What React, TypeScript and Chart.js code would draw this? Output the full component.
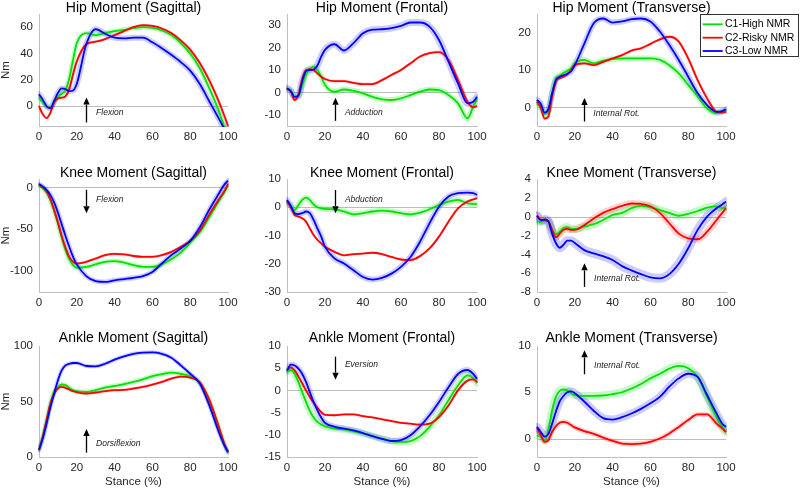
import React, { useEffect, useRef } from "react";
import { Chart, registerables } from "chart.js";
Chart.register(...registerables);

// ---------- data ----------
const stance = [0, 2, 4, 6, 8, 10, 12, 14, 16, 18, 20, 25, 30, 35, 40, 45, 50, 55, 60, 65, 70, 75, 80, 85, 90, 95, 98, 100];
const xTicks = [0, 20, 40, 60, 80, 100];
const groupLabels = ["C1-High NMR", "C2-Risky NMR", "C3-Low NMR"];

const hipSagHigh = [6.3, 3, -0.5, -1, 2.5, 7, 9.5, 12, 21, 35, 48, 55.5, 54, 55.5, 57, 58, 59.3, 60, 59.5, 57.5, 54, 48, 40, 29, 14, -3, -15.5, -22];
const hipSagRisky = [0, -6, -9, -5, 3, 6, 6.5, 7.5, 13, 24, 34, 47, 49, 51, 54, 57, 60, 61.5, 61, 59, 55.5, 50, 43, 33, 20, 4, -7, -15];
const hipSagLow = [9, 5, 0, -1.5, 4, 10, 13.5, 13, 11.5, 12, 17, 47, 58.5, 55, 52, 51.5, 52, 52, 48.5, 44, 39, 33.5, 27, 17, 4, -9, -17, -22];

const hipFrontHigh = [1.8, 1, -1.8, -1.6, 3, 8, 10.5, 11.5, 10, 7, 3.3, 0.3, 1.3, 0.7, -0.4, -2, -3.1, -3.4, -2.7, -1.2, 0.3, 1.3, 1, -1.2, -4.9, -11.6, -6.4, -2.7];
const hipFrontRisky = [1.8, 0.5, -3.4, -1, 6, 10, 10.3, 10, 8.5, 7, 6, 5, 5, 4.3, 3.7, 3.7, 5.5, 7.8, 10, 13, 16, 17.5, 18, 14.5, 5.5, -4.2, -6.7, -6];
const hipFrontLow = [1.8, 0.5, -2, -1.5, 5, 9.5, 10, 10.2, 12, 16, 19, 21.5, 18.7, 22, 26.4, 28, 28.2, 28.7, 29.7, 31.2, 31.2, 29.4, 23.4, 13.7, 4, -4.9, -4.2, -2];

const hipTransHigh = [1, 0, -1.8, -1.2, 3.75, 7.8, 8.4, 9.2, 9.8, 10.4, 11.8, 12.7, 11.8, 12.5, 12.9, 13.1, 13.1, 13.1, 13.1, 12.7, 11.3, 9.1, 6, 2.9, -0.3, -1.6, -1.2, -0.7];
const hipTransRisky = [1.5, 0, -3, -2.5, 2.9, 6.9, 7.8, 8.2, 8.8, 10, 11.3, 11.8, 11.3, 12.2, 13.1, 14, 15.2, 15.8, 17, 18.2, 18.9, 17.6, 13.1, 7.3, 2.4, -1.2, -1.4, -1.2];
const hipTransLow = [2, 1, -1.4, -0.5, 3.75, 7.3, 8.2, 8.6, 9, 9.6, 11.3, 17, 22.5, 23.8, 22.7, 23, 23.6, 23.8, 23, 20.3, 16.7, 12.7, 8.2, 3.75, 0.6, -1.2, -1, -0.5];

const kneeSagHigh = [2, -1, -6, -15, -28, -43, -60, -75, -86, -93, -96, -95, -92, -89, -88, -90, -93, -95, -95, -92, -86, -78, -66, -54, -36, -17, -6, 2];
const kneeSagRisky = [3, 0, -5, -14, -27, -42, -58, -72, -83, -89, -91, -89, -85, -81, -79.5, -80, -82, -83, -83, -81, -77, -71, -64, -52, -33, -15, -5, 4];
const kneeSagLow = [4, 1, -3, -9, -18, -30, -44, -58, -71, -83, -92, -106, -112, -113, -111, -109.5, -108, -106, -101, -91, -81, -73, -64, -48, -27, -8, 3, 8];

const kneeFrontHigh = [1.4, 0.5, -1, 0.8, 2.6, 3.4, 2.6, 1, 0, -0.4, -0.6, -0.7, -1.5, -2.5, -2.1, -1.5, -1.2, -1.5, -2.1, -2.5, -1.9, -0.7, 0.8, 2, 2.6, 1.4, 1.2, 1.1];
const kneeFrontRisky = [2, 0, -2.7, -3.3, -3.9, -5.1, -7.5, -9.8, -11.5, -12.8, -14, -15.8, -17, -16.6, -16.4, -16.1, -16.6, -17.6, -18.5, -18.7, -17.3, -14.6, -10.4, -5.1, -0.4, 2, 2.8, 3.2];
const kneeFrontLow = [2.6, 0.5, -2.1, -2.4, -2.1, -1.5, -2.1, -4.5, -7.5, -10.4, -14, -18.1, -19.9, -22.3, -24.7, -25.6, -25, -23.5, -21.1, -17.6, -12.2, -5.7, 0.2, 3.8, 5, 5.2, 5, 4.4];

const kneeTransHigh = [-0.5, -0.6, -0.4, -0.5, -1.4, -1.85, -1.6, -1.2, -1.1, -1.3, -1.3, -1.05, -0.8, -0.35, 0.2, 0.4, 0.9, 1.15, 1, 0.7, 0.4, 0.1, 0.3, 0.6, 0.95, 1.1, 0.9, 1];
const kneeTransRisky = [0.1, -0.3, -0.4, -0.5, -1.4, -2.2, -1.8, -1.4, -1.3, -1.4, -1.4, -0.9, -0.2, 0.4, 0.8, 1.15, 1.4, 1.35, 1.1, 0.4, -0.7, -1.8, -2.3, -2.4, -1.6, -0.35, 0.4, 0.9];
const kneeTransLow = [0.1, -0.4, -0.3, -0.5, -1.8, -2.8, -3.3, -3, -2.55, -2.55, -2.8, -3.55, -3.9, -4.2, -4.6, -5.25, -5.7, -6.1, -6.45, -6.55, -6.1, -5, -3.35, -1.4, 0, 0.9, 1.3, 1.6];

const ankleSagHigh = [6.3, 18, 33, 48, 58.7, 63.2, 65.3, 64.7, 62.3, 60.2, 59.3, 58.7, 60.2, 62.6, 64, 65.6, 67.7, 70, 72.8, 74.6, 76, 75, 72.8, 66.8, 51.2, 27.2, 11.7, 4.2];
const ankleSagRisky = [6.3, 18.3, 33, 48, 57, 61.7, 63.2, 62.3, 60.8, 59.3, 58.4, 57.2, 58.1, 59.3, 60.2, 60.5, 61.7, 63.2, 65.3, 67.7, 70.7, 72.5, 71.6, 67.5, 52, 28, 12.3, 4.8];
const ankleSagLow = [6.3, 16.8, 30, 44.6, 57, 69, 78, 82.6, 84, 84.7, 84.7, 82, 81.7, 84, 87.7, 90.7, 93, 94, 94.3, 93, 89.5, 82.6, 75, 66.5, 47, 23, 10.8, 4.2];

const ankleFrontHigh = [4.1, 4.6, 3.7, 1.9, -0.4, -2.6, -4.6, -6.1, -7.1, -7.7, -8.1, -8.6, -8.8, -9.2, -9.7, -10.3, -10.9, -11.4, -11.6, -11.4, -10.3, -8.2, -5.6, -2.2, 1.1, 3.4, 2.8, 1.6];
const ankleFrontRisky = [4.6, 5.2, 4.5, 3.1, 1.6, 0, -1.5, -2.8, -3.9, -4.9, -5.5, -5.6, -5.4, -5.4, -5.8, -6.1, -6.5, -6.9, -7.3, -7.5, -7.7, -7.5, -6, -3.4, 0, 2.2, 2.5, 1.9];
const ankleFrontLow = [4.5, 5.8, 5.6, 4.9, 3.7, 1.9, -0.4, -2.6, -4.5, -6.1, -7.3, -8.2, -8.6, -9, -9.6, -10.3, -10.9, -11.4, -11.2, -10.1, -8.1, -5.6, -2.6, 0.7, 3.7, 4.6, 3.7, 2.6];

const ankleTransHigh = [0.36, 0.2, -0.2, 0.9, 3.05, 4.5, 5.15, 5.3, 5.2, 4.9, 4.7, 4.6, 4.6, 4.65, 4.8, 5, 5.4, 5.9, 6.5, 7, 7.55, 7.85, 7.6, 6.65, 4.5, 2.3, 1.25, 0.7];
const ankleTransRisky = [1.1, 0.36, -0.36, -0.2, 0.7, 1.33, 1.7, 1.8, 1.7, 1.45, 1.2, 0.8, 0.5, 0.1, -0.25, -0.55, -0.6, -0.55, -0.36, 0, 0.55, 1.25, 2, 2.6, 2.6, 1.6, 1.1, 0.7];
const ankleTransLow = [1.25, 0.7, 0.2, 0.5, 1.6, 2.9, 4, 4.6, 5, 5.1, 4.9, 4, 3, 2.2, 2.05, 2.3, 2.7, 3.2, 3.8, 4.5, 5.6, 6.5, 7, 6.65, 4.7, 2.7, 1.6, 1.25];

// ---------- layout / style ----------
const FONT = '"Liberation Sans", Arial, Helvetica, sans-serif';
const LINE_COLORS = ["rgb(0,225,0)", "rgb(255,0,0)", "rgb(0,0,255)"];
const BAND_COLORS = ["rgba(0,225,0,0.22)", "rgba(255,0,0,0.18)", "rgba(0,0,255,0.2)"];
const plotL = [39, 287, 537];
const plotR = [228, 477, 726];
const plotT = [14, 179, 346];
const plotB = [126, 292, 457];
const canvL = [0, 242, 492];
const canvR = [248, 497, 800];
const canvT = [0, 160, 326];
const canvB = [148, 314, 489];
const titleBase = [11.7, 176.7, 342.3];

type Note = { text: string; tx: number; ty: number; from: number; to: number };
type Panel = {
  title: string;
  series: number[][];
  yMin: number;
  yMax: number;
  yTicks: number[];
  row: number;
  col: number;
  note: Note;
  bands: number[];
};

const panels: Panel[] = [
  { title: "Hip Moment (Sagittal)", series: [hipSagHigh, hipSagRisky, hipSagLow], yMin: -15, yMax: 70, yTicks: [0, 20, 40, 60], row: 0, col: 0,
    note: { text: "Flexion", tx: 30.2, ty: -4.8, from: -12.3, to: 6.6 }, bands: [5, 3, 6] },
  { title: "Hip Moment (Frontal)", series: [hipFrontHigh, hipFrontRisky, hipFrontLow], yMin: -15, yMax: 35, yTicks: [-10, 0, 10, 20, 30], row: 0, col: 1,
    note: { text: "Adduction", tx: 30.5, ty: -9.2, from: -12.7, to: -2.4 }, bands: [6, 3, 7] },
  { title: "Hip Moment (Transverse)", series: [hipTransHigh, hipTransRisky, hipTransLow], yMin: -5, yMax: 25, yTicks: [0, 10, 20], row: 0, col: 2,
    note: { text: "Internal Rot.", tx: 29.8, ty: -1.7, from: -3.8, to: 2.5 }, bands: [6, 3, 6] },
  { title: "Knee Moment (Sagittal)", series: [kneeSagHigh, kneeSagRisky, kneeSagLow], yMin: -125, yMax: 10, yTicks: [-100, -50, 0], row: 1, col: 0,
    note: { text: "Flexion", tx: 30.2, ty: -14.8, from: -2.8, to: -30.9 }, bands: [5, 3, 5] },
  { title: "Knee Moment (Frontal)", series: [kneeFrontHigh, kneeFrontRisky, kneeFrontLow], yMin: -30, yMax: 10, yTicks: [-30, -20, -10, 0, 10], row: 1, col: 1,
    note: { text: "Abduction", tx: 30.5, ty: 2.6, from: 6.1, to: -2.1 }, bands: [6, 2.5, 6] },
  { title: "Knee Moment (Transverse)", series: [kneeTransHigh, kneeTransRisky, kneeTransLow], yMin: -8, yMax: 4, yTicks: [-8, -6, -4, -2, 0, 2, 4], row: 1, col: 2,
    note: { text: "Internal Rot.", tx: 30.2, ty: -6.57, from: -7.46, to: -4.96 }, bands: [8, 7, 9] },
  { title: "Ankle Moment (Sagittal)", series: [ankleSagHigh, ankleSagRisky, ankleSagLow], yMin: 0, yMax: 100, yTicks: [0, 50, 100], row: 2, col: 0,
    note: { text: "Dorsiflexion", tx: 30.2, ty: 11.7, from: 3.9, to: 25.2 }, bands: [5, 3, 4] },
  { title: "Ankle Moment (Frontal)", series: [ankleFrontHigh, ankleFrontRisky, ankleFrontLow], yMin: -15, yMax: 10, yTicks: [-15, -10, -5, 0, 5, 10], row: 2, col: 1,
    note: { text: "Eversion", tx: 30.5, ty: 5.7, from: 7.6, to: 2.4 }, bands: [7, 2.5, 6] },
  { title: "Ankle Moment (Transverse)", series: [ankleTransHigh, ankleTransRisky, ankleTransLow], yMin: -2, yMax: 10, yTicks: [0, 5, 10], row: 2, col: 2,
    note: { text: "Internal Rot.", tx: 30.2, ty: 7.9, from: 6.94, to: 9.53 }, bands: [8, 5, 8] },
];

function toPoints(values: number[]) {
  return stance.map((x, i) => ({ x, y: values[i] }));
}

function buildConfig(p: Panel): any {
  const cl = canvL[p.col], cr = canvR[p.col], ct = canvT[p.row], cb = canvB[p.row];
  const pl = plotL[p.col], pr = plotR[p.col], pt = plotT[p.row], pb = plotB[p.row];
  const order = [2, 1, 0];
  const lines = order.map((g) => ({
    label: groupLabels[g],
    data: toPoints(p.series[g]),
    borderColor: LINE_COLORS[g],
    borderWidth: 1.8,
    pointRadius: 0,
    fill: false,
    cubicInterpolationMode: "monotone",
    clip: 1,
  }));
  const bands = order.map((g) => ({
    label: groupLabels[g] + " band",
    data: toPoints(p.series[g]),
    borderColor: BAND_COLORS[g],
    borderWidth: p.bands[g],
    borderCapStyle: "round",
    borderJoinStyle: "round",
    pointRadius: 0,
    fill: false,
    cubicInterpolationMode: "monotone",
    clip: 1,
  }));

  const decor = {
    id: "decor",
    beforeDatasetsDraw(chart: any) {
      const { ctx, chartArea, scales } = chart;
      if (p.yMin < 0 && p.yMax > 0) {
        const py = Math.round(scales.y.getPixelForValue(0)) + 0.5;
        ctx.save();
        ctx.strokeStyle = "#bdbdbd";
        ctx.lineWidth = 1;
        ctx.beginPath();
        ctx.moveTo(chartArea.left, py);
        ctx.lineTo(chartArea.right, py);
        ctx.stroke();
        ctx.restore();
      }
    },
    afterDraw(chart: any) {
      const { ctx, chartArea, scales } = chart;
      const xs = scales.x, ys = scales.y;
      ctx.save();
      // title
      ctx.fillStyle = "#000";
      ctx.font = `14px ${FONT}`;
      ctx.textAlign = "center";
      ctx.textBaseline = "alphabetic";
      ctx.fillText(p.title, (chartArea.left + chartArea.right) / 2, titleBase[p.row] - ct);
      // arrow
      const ax = Math.round(xs.getPixelForValue(25)) + 0.5;
      const y0 = ys.getPixelForValue(p.note.from);
      const y1 = ys.getPixelForValue(p.note.to);
      const dir = Math.sign(y1 - y0);
      const head = 7;
      ctx.strokeStyle = "#000";
      ctx.fillStyle = "#000";
      ctx.lineWidth = 1.3;
      ctx.beginPath();
      ctx.moveTo(ax, y0);
      ctx.lineTo(ax, y1 - dir * head);
      ctx.stroke();
      ctx.beginPath();
      ctx.moveTo(ax, y1);
      ctx.lineTo(ax - 3.2, y1 - dir * head);
      ctx.lineTo(ax + 3.2, y1 - dir * head);
      ctx.closePath();
      ctx.fill();
      // note text
      ctx.fillStyle = "#222";
      ctx.font = `italic 8.5px ${FONT}`;
      ctx.textAlign = "left";
      ctx.textBaseline = "middle";
      ctx.fillText(p.note.text, xs.getPixelForValue(p.note.tx), ys.getPixelForValue(p.note.ty));
      // y label
      if (p.col === 0) {
        ctx.save();
        ctx.translate(5.5, (chartArea.top + chartArea.bottom) / 2);
        ctx.rotate(-Math.PI / 2);
        ctx.fillStyle = "#262626";
        ctx.font = `11.5px ${FONT}`;
        ctx.textAlign = "center";
        ctx.textBaseline = "middle";
        ctx.fillText("Nm", 0, 0);
        ctx.restore();
      }
      // x label
      if (p.row === 2) {
        ctx.fillStyle = "#262626";
        ctx.font = `11.5px ${FONT}`;
        ctx.textAlign = "center";
        ctx.textBaseline = "alphabetic";
        ctx.fillText("Stance (%)", (chartArea.left + chartArea.right) / 2, 485 - ct);
      }
      // legend
      if (p.row === 0 && p.col === 2) {
        const bx = 700 - cl, by = 14 - ct, bw = 99, bh = 43;
        ctx.fillStyle = "#fff";
        ctx.fillRect(bx, by, bw, bh);
        ctx.strokeStyle = "#333";
        ctx.lineWidth = 1;
        ctx.strokeRect(bx + 0.5, by + 0.5, bw - 1, bh - 1);
        const rows = [24.3, 37.7, 51];
        [0, 1, 2].forEach((g) => {
          const ly = rows[g] - ct;
          ctx.strokeStyle = LINE_COLORS[g];
          ctx.lineWidth = 1.8;
          ctx.beginPath();
          ctx.moveTo(702.7 - cl, ly);
          ctx.lineTo(722.7 - cl, ly);
          ctx.stroke();
          ctx.fillStyle = "#000";
          ctx.font = `10.5px ${FONT}`;
          ctx.textAlign = "left";
          ctx.textBaseline = "middle";
          ctx.fillText(groupLabels[g], 725 - cl, ly);
        });
      }
      ctx.restore();
    },
  };

  return {
    type: "line",
    data: { datasets: [...lines, ...bands] },
    plugins: [decor],
    options: {
      animation: false,
      responsive: false,
      devicePixelRatio: 1,
      events: [],
      layout: { padding: { left: 0, top: pt - ct, right: cr - pr, bottom: 0 } },
      plugins: { legend: { display: false }, tooltip: { enabled: false }, title: { display: false } },
      scales: {
        x: {
          type: "linear",
          min: 0,
          max: 100,
          grid: { display: false, drawTicks: false },
          border: { display: true, color: "#bfbfbf", width: 1 },
          ticks: { color: "#262626", font: { size: 11.5, family: FONT }, padding: 4, maxRotation: 0, autoSkip: false },
          afterBuildTicks: (s: any) => { s.ticks = xTicks.map((v) => ({ value: v })); },
          afterFit: (s: any) => { s.height = cb - pb; },
        },
        y: {
          type: "linear",
          min: p.yMin,
          max: p.yMax,
          grid: { display: false, drawTicks: false },
          border: { display: true, color: "#bfbfbf", width: 1 },
          ticks: { color: "#262626", font: { size: 11.5, family: FONT }, padding: 6, autoSkip: false },
          afterBuildTicks: (s: any) => { s.ticks = p.yTicks.map((v) => ({ value: v })); },
          afterFit: (s: any) => { s.width = pl - cl; },
        },
      },
    },
  };
}

function PanelChart({ p }: { p: Panel }) {
  const ref = useRef<HTMLCanvasElement>(null);
  const cl = canvL[p.col], cr = canvR[p.col], ct = canvT[p.row], cb = canvB[p.row];
  const w = cr - cl, h = cb - ct;
  useEffect(() => {
    const chart = new Chart(ref.current as HTMLCanvasElement, buildConfig(p));
    return () => chart.destroy();
  }, []);
  return (
    <canvas
      ref={ref}
      width={w}
      height={h}
      style={{ position: "absolute", left: cl, top: ct, width: w, height: h }}
    />
  );
}

export default function App() {
  return (
    <div style={{ position: "fixed", left: 0, top: 0, width: 800, height: 489, background: "#fff", overflow: "hidden" }}>
      {panels.map((p, i) => (
        <PanelChart key={i} p={p} />
      ))}
    </div>
  );
}
